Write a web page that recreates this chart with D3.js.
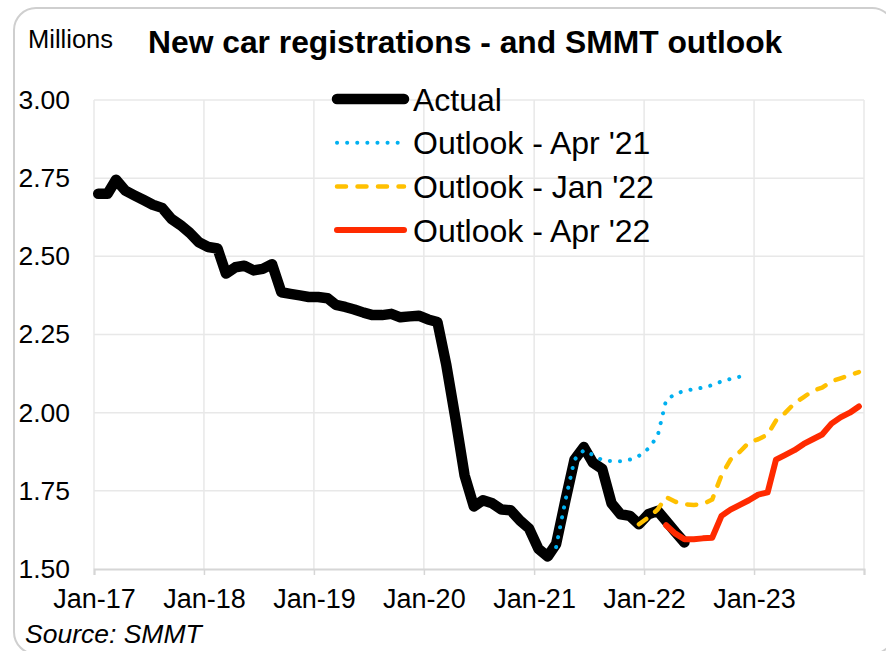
<!DOCTYPE html>
<html>
<head>
<meta charset="utf-8">
<script src="https://cdn.jsdelivr.net/npm/d3@7"></script>
<style>
  body { margin: 0; background: #fff; }
  svg { display: block; font-family: "Liberation Sans", Arial, sans-serif; }
</style>
</head>
<body>
<script>
// Datos (millones, total móvil mensual)
var actualStart = [2017, 0];
var actual = [
  2.70, 2.70, 2.745, 2.71, 2.695, 2.68, 2.665, 2.655, 2.62, 2.60, 2.575, 2.545,
  2.53, 2.525, 2.445, 2.465, 2.47, 2.455, 2.46, 2.475, 2.385, 2.38, 2.375, 2.37,
  2.37, 2.366, 2.345, 2.338, 2.33, 2.32, 2.312, 2.312, 2.316, 2.305, 2.308, 2.31,
  2.298, 2.29, 2.155, 1.98, 1.80, 1.70, 1.72, 1.71, 1.69, 1.688, 1.655, 1.63,
  1.565, 1.54, 1.58, 1.72, 1.85, 1.89, 1.84, 1.82, 1.71, 1.675, 1.67, 1.643,
  1.675, 1.686, 1.654, 1.618, 1.585
];

var outlookApr21Start = [2021, 2];
var outlookApr21 = [
  1.57, 1.72, 1.85, 1.88, 1.865, 1.848, 1.845, 1.845, 1.85, 1.862,
  1.885, 1.925, 2.04, 2.06, 2.07, 2.075, 2.08, 2.088, 2.10, 2.108, 2.115, 2.12
];

var outlookJan22Start = [2021, 11];
var outlookJan22 = [
  1.643, 1.665, 1.69, 1.73, 1.715, 1.707, 1.705, 1.707, 1.722, 1.80, 1.85, 1.875, 1.905,
  1.915, 1.93, 1.975, 2.00, 2.03, 2.05, 2.07, 2.08, 2.10, 2.11, 2.12, 2.13
];

var outlookApr22Start = [2022, 2];
var outlookApr22 = [
  1.64, 1.613, 1.595, 1.595, 1.598, 1.60, 1.67, 1.69, 1.705, 1.72,
  1.738, 1.745, 1.85, 1.865, 1.88, 1.90, 1.915, 1.93, 1.965, 1.985, 2.00, 2.02
];

var yTicks = [1.50, 1.75, 2.00, 2.25, 2.50, 2.75, 3.00];
var legendLabels = ["Actual", "Outlook - Apr '21", "Outlook - Jan '22", "Outlook - Apr '22"];

// Configuración del SVG
var width = 886, height = 651;
var plot = {left: 94, right: 864, top: 100, bottom: 569};

var svg = d3.select("body").append("svg")
    .attr("width", width)
    .attr("height", height);

// marco redondeado
svg.append("rect")
    .attr("x", 14).attr("y", 8)
    .attr("width", 880).attr("height", 646)
    .attr("rx", 22)
    .attr("fill", "none")
    .attr("stroke", "#cfcfcf")
    .attr("stroke-width", 2);

function toSeries(start, vals) {
  return vals.map(function(v, i) {
    return {date: new Date(start[0], start[1] + i, 15), value: v};
  });
}

var series = [
  {name: legendLabels[0], data: toSeries(actualStart, actual), color: "#000000", width: 10.5, dash: null},
  {name: legendLabels[1], data: toSeries(outlookApr21Start, outlookApr21), color: "#00b0f0", width: 4, dash: "0.1 10"},
  {name: legendLabels[2], data: toSeries(outlookJan22Start, outlookJan22), color: "#ffc000", width: 4.5, dash: "9 11.5"},
  {name: legendLabels[3], data: toSeries(outlookApr22Start, outlookApr22), color: "#ff2a00", width: 6, dash: null}
];

// Escalas
var x = d3.scaleTime()
    .domain([new Date(2017, 0, 1), new Date(2024, 0, 1)])
    .range([plot.left, plot.right]);

var y = d3.scaleLinear()
    .domain([1.5, 3.0])
    .range([plot.bottom, plot.top]);

var years = d3.timeYear.range(new Date(2017, 0, 1), new Date(2024, 0, 2));

// Rejilla
svg.append("g")
  .selectAll("line")
  .data(yTicks.slice(1))
  .enter().append("line")
    .attr("x1", plot.left).attr("x2", plot.right)
    .attr("y1", d => y(d)).attr("y2", d => y(d))
    .attr("stroke", "#e8e8e8")
    .attr("stroke-width", 1.5);

svg.append("g")
  .selectAll("line")
  .data(years)
  .enter().append("line")
    .attr("x1", d => x(d)).attr("x2", d => x(d))
    .attr("y1", plot.top).attr("y2", plot.bottom)
    .attr("stroke", "#e8e8e8")
    .attr("stroke-width", 1.5);

// Eje X
var xAxis = svg.append("g")
    .attr("transform", "translate(0," + plot.bottom + ")")
    .call(d3.axisBottom(x)
      .tickValues(years)
      .tickSize(6)
      .tickFormat(d => d.getFullYear() < 2024 ? d3.timeFormat("%b-%y")(d) : ""));

xAxis.select(".domain").attr("stroke", "#d6d6d6").attr("stroke-width", 2);
xAxis.selectAll(".tick line").attr("stroke", "#d6d6d6").attr("stroke-width", 1.5);
xAxis.selectAll(".tick text")
    .attr("y", 20)
    .attr("dy", "0.71em")
    .attr("fill", "#000")
    .style("font-size", "27px")
    .style("font-family", "\"Liberation Sans\", Arial, sans-serif");

// Eje Y (solo etiquetas)
var yAxis = svg.append("g")
    .attr("transform", "translate(" + plot.left + ",0)")
    .call(d3.axisLeft(y).tickValues(yTicks).tickSize(0).tickPadding(24).tickFormat(d3.format(".2f")));

yAxis.select(".domain").remove();
yAxis.selectAll(".tick text")
    .attr("fill", "#000")
    .style("font-size", "26.5px")
    .style("font-family", "\"Liberation Sans\", Arial, sans-serif");

// Líneas
var line = d3.line()
    .x(d => x(d.date))
    .y(d => y(d.value));

svg.append("g")
  .selectAll("path")
  .data(series)
  .enter().append("path")
    .attr("d", d => line(d.data))
    .attr("fill", "none")
    .attr("stroke", d => d.color)
    .attr("stroke-width", d => d.width)
    .attr("stroke-linecap", "round")
    .attr("stroke-linejoin", "round")
    .attr("stroke-dasharray", d => d.dash);

// Leyenda
var legend = svg.append("g")
  .selectAll("g")
  .data(series)
  .enter().append("g")
    .attr("transform", (d, i) => "translate(0," + (99 + i * 43.7) + ")");

legend.append("line")
    .attr("x1", 337).attr("x2", d => d.dash === "0.1 10" ? 403 : 404)
    .attr("stroke", d => d.color)
    .attr("stroke-width", d => d.width)
    .attr("stroke-linecap", "round")
    .attr("stroke-dasharray", d => d.dash);

legend.append("text")
    .attr("x", 413)
    .attr("dy", "0.36em")
    .style("font-size", "32px")
    .text(d => d.name);

// Títulos
svg.append("text")
    .attr("x", 28).attr("y", 48)
    .style("font-size", "25.5px")
    .text("Millions");

svg.append("text")
    .attr("x", 148).attr("y", 53)
    .style("font-size", "31.8px")
    .style("font-weight", "bold")
    .text("New car registrations - and SMMT outlook");

svg.append("text")
    .attr("x", 25).attr("y", 643)
    .style("font-size", "26.5px")
    .style("font-style", "italic")
    .text("Source: SMMT");
</script>
</body>
</html>
